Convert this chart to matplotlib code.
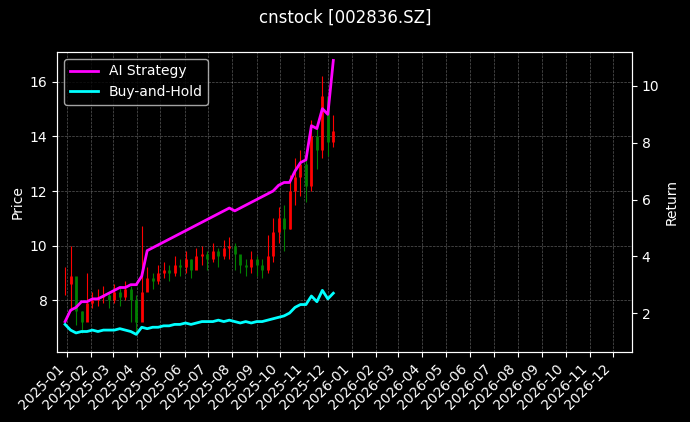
import matplotlib.pyplot as plt
import matplotlib.dates as mdates
import pandas as pd

dates = pd.date_range("2024-12-30", periods=50, freq="W-MON")
close = [8.6, 8.9, 7.6, 7.2, 7.9, 8.0, 8.1, 8.2, 8.0, 8.3, 8.1, 8.4, 8.0, 7.2, 8.3, 8.8,
         8.7, 9.0, 9.1, 9.0, 9.3, 9.2, 9.5, 9.1, 9.6, 9.7, 9.5, 9.8, 9.6, 9.9, 10.0, 9.7,
         9.3, 9.2, 9.5, 9.3, 9.1, 9.6, 10.5, 11.0, 10.6, 12.0, 12.5, 13.0, 12.2, 14.0, 13.5, 15.5, 13.8, 14.2]
high = [9.2, 10.0, 8.2, 7.6, 9.0, 8.3, 8.4, 8.5, 8.3, 8.6, 8.5, 8.7, 8.5, 8.2, 10.7, 9.2,
        9.0, 9.3, 9.4, 9.3, 9.6, 9.5, 9.8, 9.5, 9.9, 10.0, 9.8, 10.1, 9.9, 10.2, 10.3, 10.1,
        9.6, 9.5, 9.8, 9.6, 9.5, 10.4, 11.0, 11.4, 11.5, 12.6, 13.2, 13.5, 13.2, 14.6, 14.3, 16.2, 15.0, 14.8]
low = [8.2, 7.6, 7.1, 6.8, 7.5, 7.7, 7.8, 7.9, 7.7, 7.9, 7.8, 8.0, 7.2, 6.8, 7.5, 8.4,
       8.4, 8.6, 8.8, 8.7, 8.9, 8.9, 9.0, 8.8, 9.2, 9.3, 9.1, 9.4, 9.2, 9.5, 9.5, 9.1,
       9.0, 8.9, 9.0, 8.9, 8.8, 9.0, 9.4, 10.1, 9.8, 10.6, 11.5, 11.8, 11.6, 12.0, 12.8, 13.2, 13.3, 13.6]
ai_ret = [1.7, 2.1, 2.2, 2.4, 2.4, 2.5, 2.5, 2.6, 2.7, 2.8, 2.9, 2.9, 3.0, 3.0, 3.3, 4.2,
          4.3, 4.4, 4.5, 4.6, 4.7, 4.8, 4.9, 5.0, 5.1, 5.2, 5.3, 5.4, 5.5, 5.6, 5.7, 5.6,
          5.7, 5.8, 5.9, 6.0, 6.1, 6.2, 6.3, 6.5, 6.6, 6.6, 7.0, 7.3, 7.4, 8.6, 8.5, 9.2, 9.0, 10.9]
bh_ret = [1.6, 1.4, 1.3, 1.35, 1.35, 1.4, 1.35, 1.4, 1.4, 1.4, 1.45, 1.4, 1.35, 1.25, 1.5, 1.45,
          1.5, 1.5, 1.55, 1.55, 1.6, 1.6, 1.65, 1.6, 1.65, 1.7, 1.7, 1.7, 1.75, 1.7, 1.75, 1.7,
          1.65, 1.7, 1.65, 1.7, 1.7, 1.75, 1.8, 1.85, 1.9, 2.0, 2.2, 2.3, 2.3, 2.6, 2.4, 2.8, 2.5, 2.7]

plt.style.use("dark_background")
fig, ax = plt.subplots(figsize=(6.9, 4.22), dpi=100)
fig.suptitle("cnstock [002836.SZ]", fontsize=12)

opens = [close[0]] + close[:-1]
for d, o, h, l, c in zip(dates, opens, high, low, close):
    col = "red" if c >= o else "green"
    ax.vlines(d, l, h, color=col, linewidth=0.8)
    ax.vlines(d, min(o, c), max(o, c), color=col, linewidth=2)
ax.set_ylabel("Price")
ax.set_ylim(6.1, 17.1)
ax.grid(True, ls="--", lw=0.5, alpha=0.35)

ax2 = ax.twinx()
ax2.plot(dates, ai_ret, color="magenta", lw=2, label="AI Strategy")
ax2.plot(dates, bh_ret, color="cyan", lw=2, label="Buy-and-Hold")
ax2.set_ylabel("Return")
ax2.set_ylim(0.63, 11.2)
ax2.legend(loc="upper left")

ax.set_xlim(pd.Timestamp("2024-12-20"), pd.Timestamp("2026-12-25"))
ax.xaxis.set_major_locator(mdates.MonthLocator())
ax.xaxis.set_major_formatter(mdates.DateFormatter("%Y-%m"))
plt.setp(ax.get_xticklabels(), rotation=45, ha="right")

plt.subplots_adjust(left=0.083, right=0.916, top=0.877, bottom=0.166)
plt.savefig("out.png")
